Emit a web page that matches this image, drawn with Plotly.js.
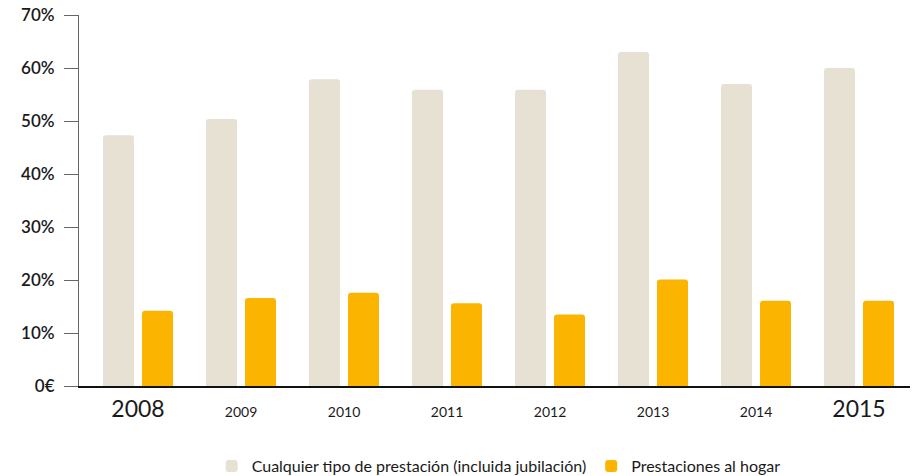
<!DOCTYPE html>
<html>
<head>
<meta charset="utf-8">
<script src="https://cdn.plot.ly/plotly-3.0.1.min.js"></script>
<style>html,body{margin:0;padding:0;background:#fff;}#chart{width:914px;height:476px;}</style>
</head>
<body>
<div id="chart"></div>
<script>
const years = ["2008","2009","2010","2011","2012","2013","2014","2015"];
const yearLabels = ["<span style='font-size:23px'>2008</span>","2009","2010","2011","2012","2013","2014","<span style='font-size:23px'>2015</span>"];
const cualquier = [47.3, 50.4, 57.9, 55.9, 55.9, 63, 57, 60];
const hogar = [14.2, 16.6, 17.6, 15.6, 13.5, 20.1, 16.1, 16.1];
const yTickVals = [0,10,20,30,40,50,60,70];
const yTickText = ["0€","10%","20%","30%","40%","50%","60%","70%"];
const seriesNames = ["Cualquier tipo de prestación (incluida jubilación)", "Prestaciones al hogar"];

const traces = [
  {type:"bar", x: years, y: cualquier, name: seriesNames[0],
   marker:{color:"#E7E1D4", cornerradius:3}, hoverinfo:"none"},
  {type:"bar", x: years, y: hogar, name: seriesNames[1],
   marker:{color:"#FBB500", cornerradius:3}, hoverinfo:"none"}
];

const layout = {
  width:914, height:476,
  margin:{l:79, r:4, t:15, b:90, autoexpand:false},
  paper_bgcolor:"#fff", plot_bgcolor:"#fff",
  barmode:"group", bargap:0.243, bargroupgap:0.205,
  font:{family:"Lato, 'Open Sans', sans-serif", color:"#1a1a1a"},
  xaxis:{
    type:"category", range:[-0.573, 7.495],
    tickvals: years, ticktext: yearLabels,
    tickfont:{size:14, color:"#1a1a1a"},
    showline:true, linecolor:"#111", linewidth:1.5,
    ticks:"", ticklabelstandoff:13,
    showgrid:false, zeroline:false, fixedrange:true, automargin:false
  },
  yaxis:{
    range:[0,70], tickvals:yTickVals, ticktext:yTickText,
    tickfont:{size:17, color:"#1a1a1a", weight:600},
    showline:true, linecolor:"#666", linewidth:1,
    ticks:"outside", ticklen:14, tickcolor:"#666", tickwidth:1,
    ticklabelstandoff:6,
    showgrid:false, zeroline:false, fixedrange:true, automargin:false
  },
  showlegend:true,
  legend:{orientation:"h", x:0.505, xanchor:"center", y:-0.17, yanchor:"top",
    font:{size:16, color:"#1a1a1a"}, itemwidth:30, traceorder:"normal"}
};

Plotly.newPlot("chart", traces, layout, {displayModeBar:false, staticPlot:true});
</script>
</body>
</html>
